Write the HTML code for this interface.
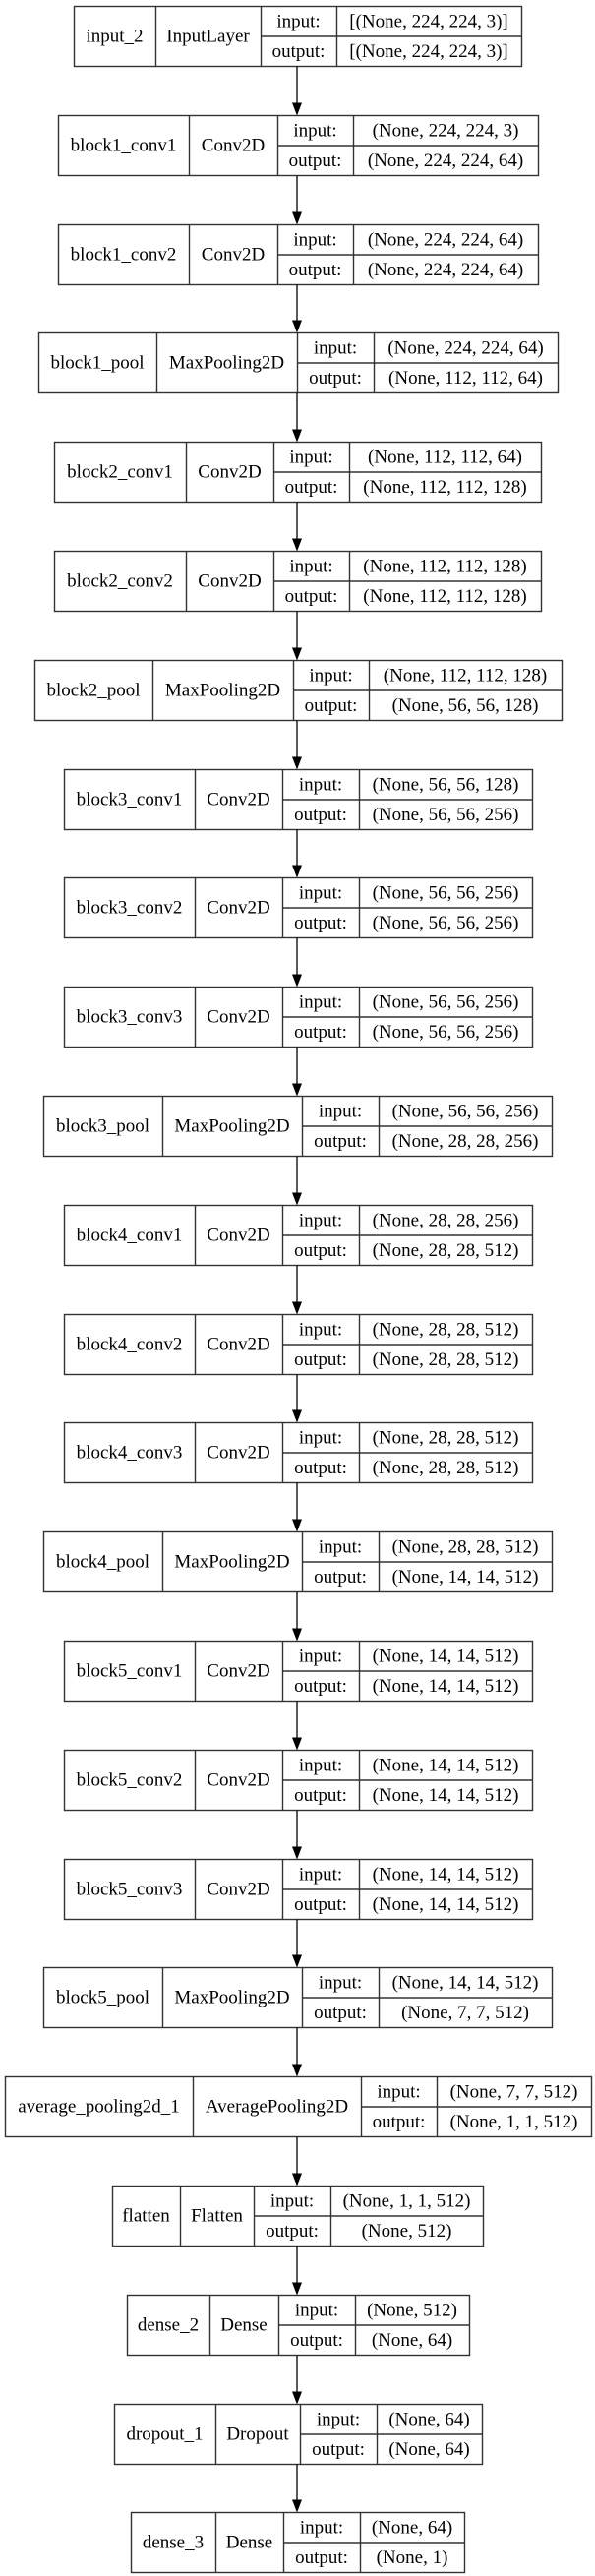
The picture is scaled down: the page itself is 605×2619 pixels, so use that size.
<!DOCTYPE html>
<html><head><meta charset="utf-8"><style>
html,body{margin:0;padding:0;background:#fff;}
svg{display:block;}
text{font-family:"Liberation Serif",serif;font-size:19px;fill:#000;}
</style></head><body>
<svg id="diagram" width="605" height="2619" viewBox="0 0 605 2619" xmlns="http://www.w3.org/2000/svg"></svg>
<script>
const layerNames=["input_2","block1_conv1","block1_conv2","block1_pool","block2_conv1","block2_conv2","block2_pool","block3_conv1","block3_conv2","block3_conv3","block3_pool","block4_conv1","block4_conv2","block4_conv3","block4_pool","block5_conv1","block5_conv2","block5_conv3","block5_pool","average_pooling2d_1","flatten","dense_2","dropout_1","dense_3"];
const layerTypes=["InputLayer","Conv2D","Conv2D","MaxPooling2D","Conv2D","Conv2D","MaxPooling2D","Conv2D","Conv2D","Conv2D","MaxPooling2D","Conv2D","Conv2D","Conv2D","MaxPooling2D","Conv2D","Conv2D","Conv2D","MaxPooling2D","AveragePooling2D","Flatten","Dense","Dropout","Dense"];
const inputShapes=["[(None, 224, 224, 3)]","(None, 224, 224, 3)","(None, 224, 224, 64)","(None, 224, 224, 64)","(None, 112, 112, 64)","(None, 112, 112, 128)","(None, 112, 112, 128)","(None, 56, 56, 128)","(None, 56, 56, 256)","(None, 56, 56, 256)","(None, 56, 56, 256)","(None, 28, 28, 256)","(None, 28, 28, 512)","(None, 28, 28, 512)","(None, 28, 28, 512)","(None, 14, 14, 512)","(None, 14, 14, 512)","(None, 14, 14, 512)","(None, 14, 14, 512)","(None, 7, 7, 512)","(None, 1, 1, 512)","(None, 512)","(None, 64)","(None, 64)"];
const outputShapes=["[(None, 224, 224, 3)]","(None, 224, 224, 64)","(None, 224, 224, 64)","(None, 112, 112, 64)","(None, 112, 112, 128)","(None, 112, 112, 128)","(None, 56, 56, 128)","(None, 56, 56, 256)","(None, 56, 56, 256)","(None, 56, 56, 256)","(None, 28, 28, 256)","(None, 28, 28, 512)","(None, 28, 28, 512)","(None, 28, 28, 512)","(None, 14, 14, 512)","(None, 14, 14, 512)","(None, 14, 14, 512)","(None, 14, 14, 512)","(None, 7, 7, 512)","(None, 1, 1, 512)","(None, 512)","(None, 64)","(None, 64)","(None, 1)"];

// layout: column boundaries per node [left, div1, div2, div3, right]
const CONV=[65,198,287,365,541], POOL=[44,165,307,385,561];
const layout=[[75,158,265,342,530],[59,192,282,359,547],[59,192,282,359,547],[39,159,302,380,567],[55,189,278,355,550],[55,189,278,355,550],[35,155,298,375,571],CONV,CONV,CONV,POOL,CONV,CONV,CONV,POOL,CONV,CONV,CONV,POOL,[5,196,367,444,601],[114,183,258,336,491],[129,213,283,361,477],[116,219,305,383,490],[133,219,288,366,472]];
const TOP0=6, STEP=110.8, H=61, AX=302;
const NS="http://www.w3.org/2000/svg";
const svg=document.getElementById('diagram');
function mk(tag,attrs,parent){const e=document.createElementNS(NS,tag);for(const k in attrs)e.setAttribute(k,attrs[k]);(parent||svg).appendChild(e);return e;}
function txt(g,x,y,s,name){const t=mk('text',{x:x,y:y,'text-anchor':'middle','dominant-baseline':'central'},g);t.textContent=s;


return t;}
const ST='#333';
layerNames.forEach((nm,i)=>{
  const c=layout[i], y=Math.round(TOP0+STEP*i)+0.5;
  const g=mk('g',{});
  
  
  mk('rect',{x:c[0]+0.5,y:y,width:c[4]-c[0],height:H,fill:'#fff',stroke:ST,'stroke-width':1.4},g);
  for(let k=1;k<4;k++) mk('line',{x1:c[k]+0.5,y1:y,x2:c[k]+0.5,y2:y+H,stroke:ST,'stroke-width':1.4},g);
  mk('line',{x1:c[2],y1:y+H/2,x2:c[4],y2:y+H/2,stroke:ST,'stroke-width':1.4},g);
  txt(g,(c[0]+c[1])/2,y+H/2,nm,'layer-name');
  txt(g,(c[1]+c[2])/2,y+H/2,layerTypes[i],'layer-type');
  txt(g,(c[2]+c[3])/2,y+H/4,'input:','input-label');
  txt(g,(c[2]+c[3])/2,y+3*H/4,'output:','output-label');
  txt(g,(c[3]+c[4])/2,y+H/4,inputShapes[i],'input-shape');
  txt(g,(c[3]+c[4])/2,y+3*H/4,outputShapes[i],'output-shape');
  if(i>0){
    const y0=Math.round(TOP0+STEP*(i-1))+0.5+H, y1=y;
    const a=mk('g',{});
    
    
    mk('line',{x1:AX,y1:y0,x2:AX,y2:y1-12,stroke:'#000','stroke-width':1.3},a);
    mk('polygon',{points:`${AX-5},${y1-13} ${AX+5},${y1-13} ${AX},${y1}`,fill:'#000'},a);
  }
});
</script>
</body></html>
